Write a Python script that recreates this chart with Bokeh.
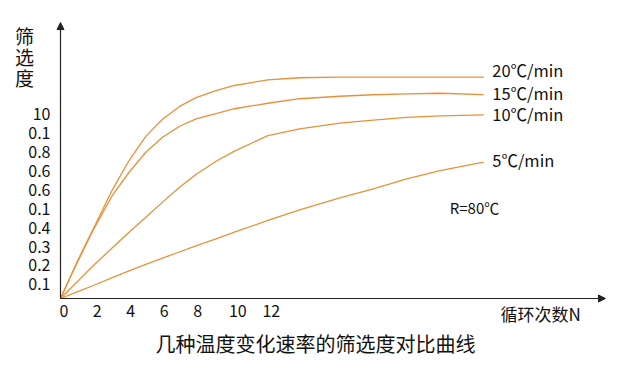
from bokeh.plotting import figure
from bokeh.models import FixedTicker, Arrow, NormalHead, Label, Range1d
from bokeh.core.properties import value
from bokeh.embed import file_html
from bokeh.resources import INLINE

FONT = "Noto Sans CJK SC"
ORANGE = "#E8913A"
AXIS = "#222222"
TXT = "#111111"

# cycle count N (x) and screening-degree values for each heating rate
x_vals = [0, 1, 2, 3.1, 4.1, 5.1, 6.1, 7.1, 8.1, 9.3, 10.4, 12.4, 14.3, 16.7, 18.7, 20.7, 22.7, 25.3]
y20 = [0, 0.196, 0.376, 0.575, 0.730, 0.858, 0.948, 1.015, 1.063, 1.100, 1.127, 1.157, 1.168, 1.171, 1.171, 1.171, 1.171, 1.171]
y15 = [0, 0.190, 0.370, 0.545, 0.668, 0.774, 0.853, 0.910, 0.950, 0.978, 1.004, 1.033, 1.057, 1.070, 1.078, 1.083, 1.086, 1.079]
y10 = [0, 0.089, 0.177, 0.268, 0.351, 0.430, 0.510, 0.587, 0.656, 0.726, 0.780, 0.862, 0.898, 0.928, 0.944, 0.958, 0.966, 0.972]
y5 = [0, 0.035, 0.070, 0.110, 0.146, 0.180, 0.214, 0.246, 0.278, 0.315, 0.351, 0.413, 0.469, 0.533, 0.580, 0.633, 0.677, 0.721]
series = [y20, y15, y10, y5]
series_names = ["20℃/min", "15℃/min", "10℃/min", "5℃/min"]
name_y = [1.210, 1.088, 0.974, 0.735]

xtick_pos = [0.2, 2.2, 4.2, 6.2, 8.2, 10.6, 12.6]
xtick_labels = ["0", "2", "4", "6", "8", "10", "12"]
ytick_pos = [0.075 + 0.1 * i for i in range(10)]
ytick_labels = ["0.1", "0.2", "0.3", "0.4", "0.1", "0.6", "0.6", "0.8", "0.1", "10"]

note_text = "R=80℃"
title_text = "几种温度变化速率的筛选度对比曲线"
xlabel_text = "循环次数N"
ylabel_text = "筛\n选\n度"

# canvas geometry
W, H = 622, 361
OX, OY = 60, 298          # where the origin sits on the canvas
SX, SY = 16.727, 189.0    # pixels per data unit

p = figure(width=W, height=H, output_backend="svg", toolbar_location=None,
           x_range=Range1d(-OX / SX, (W - OX) / SX),
           y_range=Range1d(-(H - OY) / SY, OY / SY),
           min_border_left=0, min_border_right=0, min_border_top=0, min_border_bottom=0)
p.outline_line_color = None
p.xgrid.visible = False
p.ygrid.visible = False
p.background_fill_color = "white"
p.border_fill_color = "white"

for ax in (p.xaxis[0], p.yaxis[0]):
    ax.fixed_location = 0
    ax.axis_line_color = None
    ax.major_tick_line_color = None
    ax.minor_tick_line_color = None
    ax.major_tick_in = 0
    ax.major_tick_out = 0
    ax.major_label_text_font = FONT
    ax.major_label_text_font_size = "16px"
    ax.major_label_text_color = TXT

p.xaxis[0].ticker = FixedTicker(ticks=xtick_pos)
p.xaxis[0].major_label_overrides = {t: l for t, l in zip(xtick_pos, xtick_labels)}
p.xaxis[0].major_label_standoff = 6
p.yaxis[0].ticker = FixedTicker(ticks=ytick_pos)
p.yaxis[0].major_label_overrides = {t: l for t, l in zip(ytick_pos, ytick_labels)}
p.yaxis[0].major_label_standoff = 10

for ys in series:
    p.line(x_vals, ys, line_color=ORANGE, line_width=1.3, line_join="round")

p.text(x=[25.81] * 4, y=name_y, text=series_names, text_font=value(FONT),
       text_font_size="16.5px", text_baseline="middle", text_align="left", text_color=TXT)
p.text(x=[23.27], y=[0.483], text=[note_text], text_font=value(FONT),
       text_font_size="15px", text_baseline="middle", text_align="left", text_color=TXT)

# axes drawn as arrows
p.add_layout(Arrow(x_start=0, y_start=0, x_end=32.58, y_end=0, line_color=AXIS, line_width=1.2,
                   end=NormalHead(size=7, fill_color=AXIS, line_color=AXIS)))
p.add_layout(Arrow(x_start=0, y_start=0, x_end=0, y_end=1.46, line_color=AXIS, line_width=1.2,
                   end=NormalHead(size=7, fill_color=AXIS, line_color=AXIS)))

p.add_layout(Label(x=26.3, y=-0.079, text=xlabel_text, text_font=FONT, text_font_size="17px",
                   text_align="left", text_baseline="middle", text_color=TXT))
p.add_layout(Label(x=15.24, y=-0.240, text=title_text, text_font=FONT, text_font_size="20px",
                   text_align="center", text_baseline="middle", text_color=TXT))
p.add_layout(Label(x=-2.15, y=1.28, text=ylabel_text, text_font=FONT, text_font_size="19px",
                   text_align="center", text_baseline="middle", text_line_height=0.77,
                   text_color=TXT))

open("out.html", "w").write(file_html(p, INLINE))
